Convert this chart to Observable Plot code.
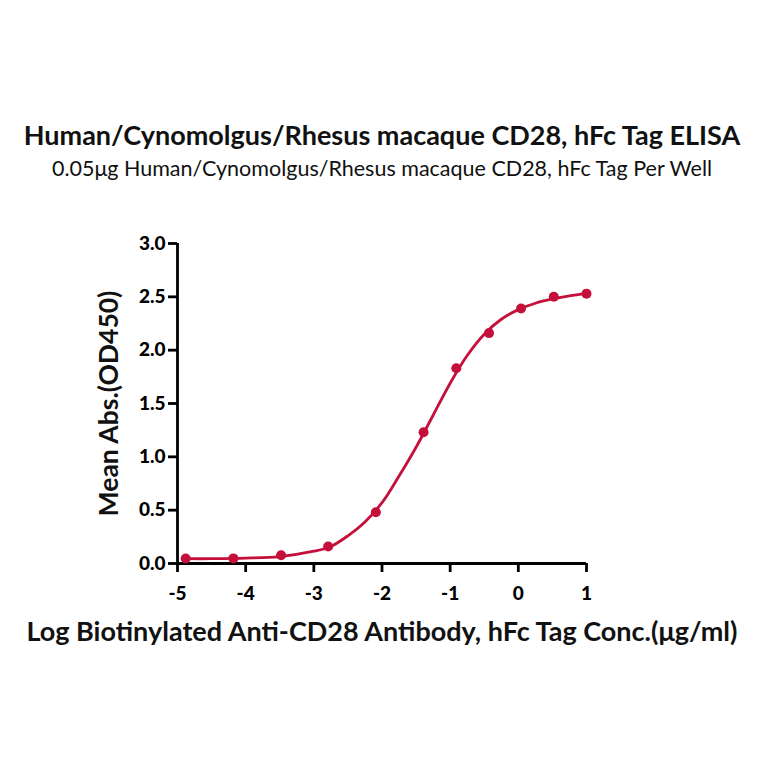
<!DOCTYPE html>
<html>
<head>
<meta charset="utf-8">
<script src="https://cdn.jsdelivr.net/npm/d3@7"></script>
<script src="https://cdn.jsdelivr.net/npm/@observablehq/plot@0.6"></script>
<style>
  html, body { margin: 0; padding: 0; background: #fff; }
  #wrap { width: 764px; height: 764px; position: relative; font-family: Lato, "Noto Sans", sans-serif; }
  #title { position: absolute; top: 118px; left: 0; width: 764px; text-align: center; font-weight: 700; font-size: 27px; line-height: 34px; color: #111; }
  #subtitle { position: absolute; top: 154px; left: 0; width: 764px; text-align: center; font-weight: 400; font-size: 21.5px; line-height: 28px; color: #111; }
  #chart { position: absolute; top: 190px; left: 0; }
</style>
</head>
<body>
<div id="wrap">
  <div id="title">Human/Cynomolgus/Rhesus macaque CD28, hFc Tag ELISA</div>
  <div id="subtitle">0.05μg Human/Cynomolgus/Rhesus macaque CD28, hFc Tag Per Well</div>
  <div id="chart"></div>
</div>
<script>
// Measured points: log10 concentration (μg/ml) and mean absorbance (OD450)
const logConc = [-4.88, -4.18, -3.48, -2.79, -2.09, -1.39, -0.91, -0.43, 0.04, 0.52, 1.0];
const meanAbs = [0.047, 0.048, 0.078, 0.16, 0.48, 1.23, 1.83, 2.16, 2.39, 2.50, 2.53];

// Fitted curve
const curveX = [-4.88, -4.5, -4.0, -3.5, -3.0, -2.75, -2.5, -2.25, -2.0, -1.75, -1.5, -1.25, -1.0, -0.75, -0.5, -0.25, 0.0, 0.25, 0.5, 0.75, 1.0];
const curveY = [0.045, 0.045, 0.05, 0.065, 0.115, 0.16, 0.26, 0.39, 0.57, 0.82, 1.09, 1.39, 1.69, 1.95, 2.15, 2.29, 2.38, 2.44, 2.48, 2.51, 2.53];

const xTicks = [-5, -4, -3, -2, -1, 0, 1];
const yTicks = [0, 0.5, 1.0, 1.5, 2.0, 2.5, 3.0];

const xLabel = "Log Biotinylated Anti-CD28 Antibody, hFc Tag Conc.(μg/ml)";
const yLabel = "Mean Abs.(OD450)";

const points = logConc.map((x, i) => ({x, y: meanAbs[i]}));
const curve = curveX.map((x, i) => ({x, y: curveY[i]}));

const color = "#c4103a";
const font = "Lato, 'Noto Sans', sans-serif";

const plot = Plot.plot({
  width: 764,
  height: 470,
  marginTop: 53,
  marginLeft: 177,
  marginRight: 178,
  marginBottom: 97,
  style: {fontFamily: font, background: "white", color: "#000"},
  x: {domain: [-5, 1]},
  y: {domain: [0, 3]},
  marks: [
    Plot.axisX({ticks: xTicks, tickSize: 9, tickPadding: 14, tickFormat: d => String(d), label: null, fontSize: 19, fontWeight: 900, strokeWidth: 2.8}),
    Plot.axisY({ticks: yTicks, tickSize: 9, tickPadding: 3, tickFormat: d3.format(".1f"), label: null, fontSize: 19, fontWeight: 900, strokeWidth: 2.8}),
    Plot.ruleX([-5], {y1: 0, y2: 3, stroke: "#000", strokeWidth: 2.8}),
    Plot.ruleY([0], {x1: -5, x2: 1, stroke: "#000", strokeWidth: 2.8}),
    Plot.line(curve, {x: "x", y: "y", stroke: color, strokeWidth: 2.8, curve: "catmull-rom"}),
    Plot.dot(points, {x: "x", y: "y", fill: color, r: 5}),
    Plot.text([xLabel], {frameAnchor: "bottom", dy: 69, lineAnchor: "middle", text: d => d, fontSize: 27, fontWeight: 700, fill: "#111"}),
    Plot.text([yLabel], {frameAnchor: "left", dx: -68, rotate: -90, textAnchor: "middle", lineAnchor: "middle", text: d => d, fontSize: 26.5, fontWeight: 700, fill: "#111"})
  ]
});
document.getElementById("chart").appendChild(plot);
</script>
</body>
</html>
